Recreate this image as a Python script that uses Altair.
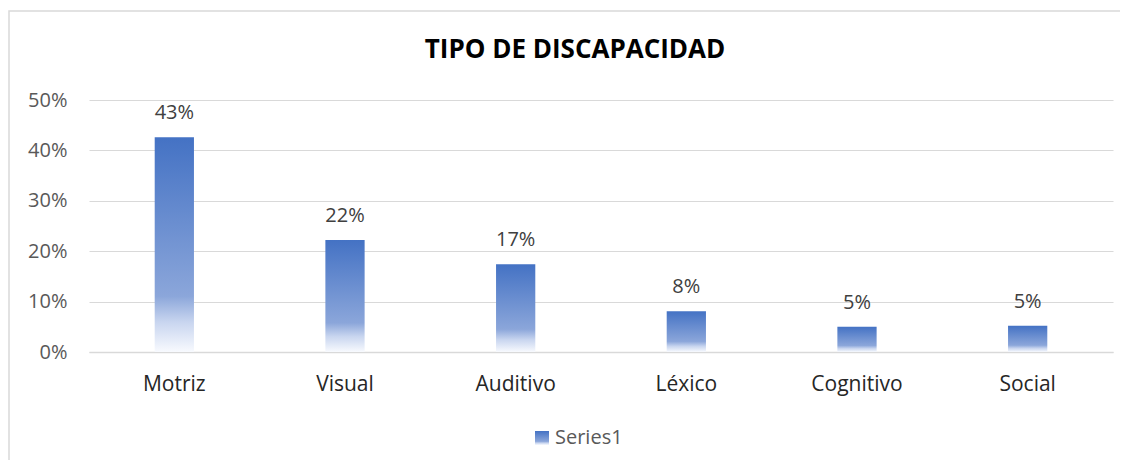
import altair as alt
import pandas as pd

categories = ["Motriz", "Visual", "Auditivo", "Léxico", "Cognitivo", "Social"]
values = [0.426, 0.222, 0.174, 0.081, 0.050, 0.052]
series = ["Series1"] * len(categories)
y_ticks = [0, 0.1, 0.2, 0.3, 0.4, 0.5]

df = pd.DataFrame({"cat": categories, "val": values, "series": series})

FONT = "Open Sans"

gradient = alt.LinearGradient(
    gradient="linear",
    x1=0, y1=0, x2=0, y2=1,
    stops=[
        alt.GradientStop(offset=0, color="#4472C4"),
        alt.GradientStop(offset=0.74, color="#8BA6DA"),
        alt.GradientStop(offset=0.86, color="#C8D5EF"),
        alt.GradientStop(offset=1, color="#F8FAFE"),
    ],
)

x_enc = alt.X(
    "cat:N",
    sort=categories,
    title=None,
    scale=alt.Scale(paddingInner=0.77, paddingOuter=0.385),
    axis=alt.Axis(
        labelAngle=0, labelFont=FONT, labelFontSize=21, labelColor="#262626",
        labelPadding=21, ticks=False, domainColor="#d9d9d9", domainWidth=1.5,
        grid=False,
    ),
)
y_enc = alt.Y(
    "val:Q",
    title=None,
    scale=alt.Scale(domain=[0, 0.5], nice=False),
    axis=alt.Axis(
        values=y_ticks, format=".0%", labelFont=FONT, labelFontSize=20,
        labelColor="#595959", labelPadding=22, ticks=False, domain=False,
        grid=True, gridColor="#d9d9d9", gridWidth=1,
    ),
)

bars = alt.Chart(df).mark_bar(color=gradient).encode(
    x=x_enc,
    y=y_enc,
    stroke=alt.Stroke(
        "series:N",
        scale=alt.Scale(range=["#6a8bd0"]),
        legend=alt.Legend(
            title=None, orient="none", legendX=443, legendY=328,
            symbolType="square", symbolSize=196, symbolFillColor="#6a8bd0",
            symbolStrokeWidth=0, labelFont=FONT, labelFontSize=20,
            labelColor="#595959", labelOffset=3,
        ),
    ),
    strokeWidth=alt.value(0),
)

labels = alt.Chart(df).mark_text(
    font=FONT, fontSize=20, color="#404040", baseline="alphabetic", dy=-18
).encode(
    x=alt.X("cat:N", sort=categories),
    y="val:Q",
    text=alt.Text("val:Q", format=".0%"),
)

border = alt.Chart(alt.Data(values=[{}])).mark_rect(
    fill=None, stroke="#d9d9d9", strokeWidth=1.5
).encode(
    x=alt.value(-80),
    x2=alt.value(1100),
    y=alt.value(-89),
    y2=alt.value(500),
)

chart = alt.layer(border, bars, labels).properties(
    width=1024,
    height=252,
    autosize=alt.AutoSizeParams(type="none"),
    padding={"left": 81, "top": 92, "right": 7, "bottom": 108},
    title=alt.Title(
        "TIPO DE DISCAPACIDAD", font=FONT, fontSize=26, fontWeight="bold",
        color="#000000", anchor="middle", frame="group", dx=-26, offset=-53,
    ),
).configure_view(stroke=None)

chart.save("out.html", embed_options={"renderer": "svg", "actions": False})
